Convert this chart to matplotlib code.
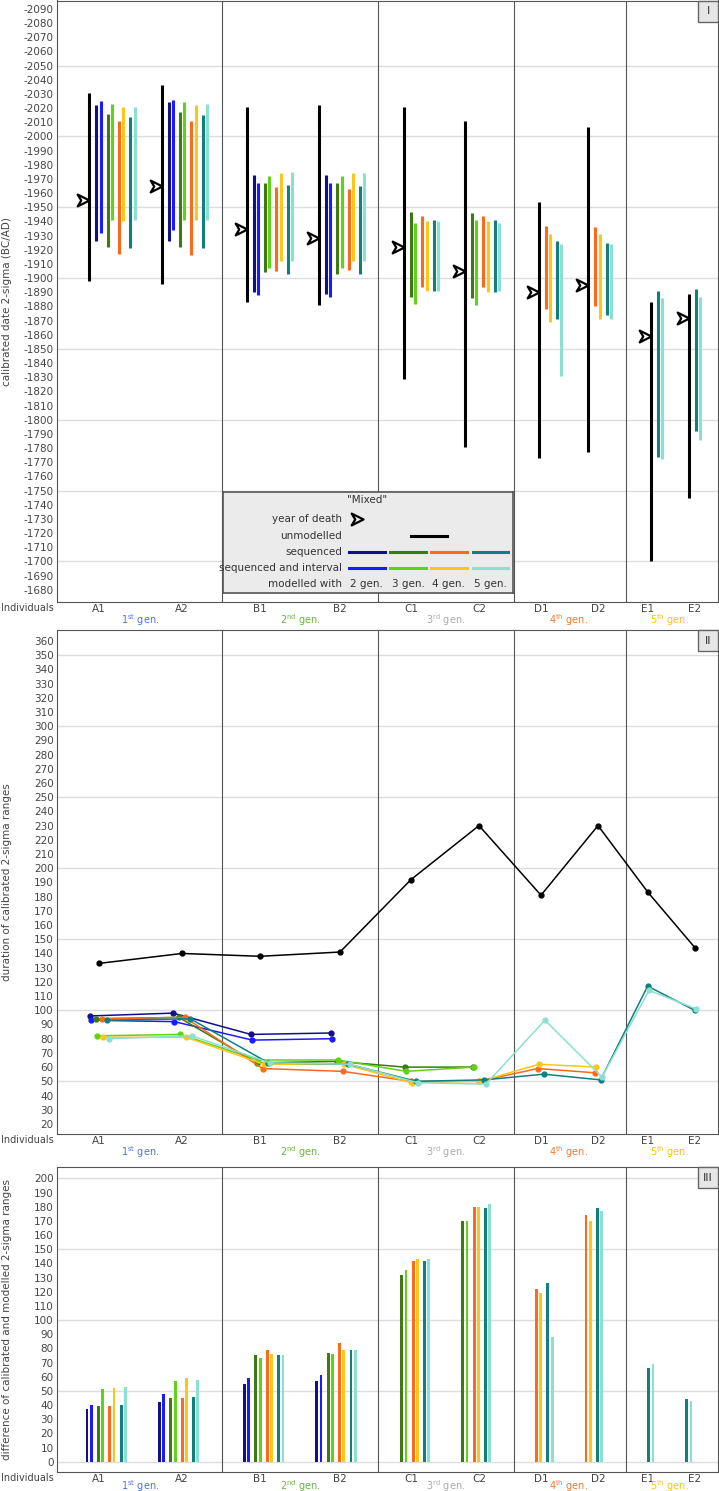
import numpy as np
import matplotlib
matplotlib.use('Agg')
import matplotlib.pyplot as plt
from matplotlib.path import Path
from matplotlib.patches import Rectangle

plt.rcParams['font.family'] = ['DejaVu Sans']
plt.rcParams['axes.unicode_minus'] = False
plt.rcParams['font.size'] = 7.5

nan = np.nan

# ---------------- data ----------------
individuals = ['A1', 'A2', 'B1', 'B2', 'C1', 'C2', 'D1', 'D2', 'E1', 'E2']
generations = [r'1$^{\mathrm{st}}$ gen.', r'2$^{\mathrm{nd}}$ gen.', r'3$^{\mathrm{rd}}$ gen.',
               r'4$^{\mathrm{th}}$ gen.', r'5$^{\mathrm{th}}$ gen.']
gen_colors = ['#4f74d9', '#6ab43c', '#aaaaaa', '#f07a2a', '#ffbe1a']

# seqN = sequenced, intN = sequenced and interval, modelled with N generations
series = ['seq2', 'int2', 'seq3', 'int3', 'seq4', 'int4', 'seq5', 'int5']
series_colors = {'seq2': '#10108c', 'int2': '#1a1aff', 'seq3': '#3d7a0f', 'int3': '#62d11a',
                 'seq4': '#ff6a1a', 'int4': '#ffc61a', 'seq5': '#0f8080', 'int5': '#8ce0d0'}

# panel I: calibrated / modelled 2-sigma ranges (BC/AD)
death_year = [-1955, -1965, -1935, -1928, -1922, -1905, -1890, -1895, -1859, -1872]
unmod_start = [-2031, -2036, -2021, -2022, -2021, -2011, -1954, -2007, -1883, -1889]
unmod_end = [-1898, -1896, -1883, -1881, -1829, -1781, -1773, -1777, -1700, -1745]

mod_start = {
    'seq2': [-2022, -2024, -1973, -1973, nan, nan, nan, nan, nan, nan],
    'int2': [-2025, -2026, -1967, -1967, nan, nan, nan, nan, nan, nan],
    'seq3': [-2016, -2017, -1967, -1967, -1947, -1946, nan, nan, nan, nan],
    'int3': [-2023, -2024, -1972, -1972, -1939, -1941, nan, nan, nan, nan],
    'seq4': [-2011, -2011, -1964, -1963, -1944, -1944, -1937, -1936, nan, nan],
    'int4': [-2021, -2022, -1974, -1974, -1940, -1940, -1931, -1931, nan, nan],
    'seq5': [-2014, -2015, -1966, -1965, -1941, -1941, -1926, -1925, -1891, -1892],
    'int5': [-2021, -2023, -1975, -1974, -1940, -1939, -1924, -1924, -1886, -1887],
}
mod_end = {
    'seq2': [-1926, -1926, -1890, -1889, nan, nan, nan, nan, nan, nan],
    'int2': [-1932, -1934, -1888, -1887, nan, nan, nan, nan, nan, nan],
    'seq3': [-1922, -1922, -1904, -1903, -1887, -1886, nan, nan, nan, nan],
    'int3': [-1941, -1941, -1907, -1907, -1882, -1881, nan, nan, nan, nan],
    'seq4': [-1917, -1916, -1905, -1906, -1894, -1894, -1878, -1880, nan, nan],
    'int4': [-1940, -1941, -1912, -1912, -1891, -1890, -1869, -1871, nan, nan],
    'seq5': [-1921, -1921, -1903, -1903, -1891, -1890, -1871, -1874, -1774, -1792],
    'int5': [-1941, -1941, -1912, -1912, -1891, -1891, -1831, -1871, -1772, -1786],
}

# panel II: duration of 2-sigma ranges
duration_unmod = [133, 140, 138, 141, 192, 230, 181, 230, 183, 144]
duration = {
    'seq2': [96, 98, 83, 84, nan, nan, nan, nan, nan, nan],
    'int2': [93, 92, 79, 80, nan, nan, nan, nan, nan, nan],
    'seq3': [94, 95, 63, 64, 60, 60, nan, nan, nan, nan],
    'int3': [82, 83, 65, 65, 57, 60, nan, nan, nan, nan],
    'seq4': [94, 95, 59, 57, 50, 50, 59, 56, nan, nan],
    'int4': [81, 81, 62, 62, 49, 50, 62, 60, nan, nan],
    'seq5': [93, 94, 63, 62, 50, 51, 55, 51, 117, 100],
    'int5': [80, 82, 63, 62, 49, 48, 93, 53, 114, 101],
}

# panel III: difference of calibrated and modelled ranges
difference = {
    'seq2': [37, 42, 55, 57, nan, nan, nan, nan, nan, nan],
    'int2': [40, 48, 59, 61, nan, nan, nan, nan, nan, nan],
    'seq3': [39, 45, 75, 77, 132, 170, nan, nan, nan, nan],
    'int3': [51, 57, 73, 76, 135, 170, nan, nan, nan, nan],
    'seq4': [39, 45, 79, 84, 142, 180, 122, 174, nan, nan],
    'int4': [52, 59, 76, 79, 143, 180, 119, 170, nan, nan],
    'seq5': [40, 46, 75, 79, 142, 179, 126, 179, 66, 44],
    'int5': [53, 58, 75, 79, 143, 182, 88, 177, 69, 43],
}

# ---------------- layout (x data units = figure pixels) ----------------
W, H = 719, 1491
X0, X1 = 57, 718
label_x = [99, 182, 260, 340, 411, 479, 541, 598, 648, 695]
group_x0 = [89.3, 161.7, 246.7, 319, 404, 465, 538.7, 588.3, 651, 689]
sep_x = [221.5, 378, 513.5, 626]
gen_x = [140, 300, 446, 569, 670]
TXT = '#444444'
EDGE = '#555555'

fig = plt.figure(figsize=(W / 100, H / 100), dpi=100)


def px_axes(top, bottom, left=X0, right=X1):
    return fig.add_axes([left / W, 1 - bottom / H, (right - left) / W, (bottom - top) / H])


def pairs_of(i):
    return [g for g in range(4) if not np.isnan(duration[series[2 * g]][i])]


def style_panel(ax, top, bottom, yticks, grid, ylabel, tag, gen_off=21.5):
    ax.set_xlim(X0, X1)
    ax.set_yticks(yticks)
    ax.set_yticklabels([str(v) for v in yticks])
    ax.set_xticks(label_x)
    ax.set_xticklabels(individuals)
    ax.tick_params(length=0, pad=2.5, labelsize=7.5, labelcolor=TXT)
    ax.tick_params(axis='x', pad=1.5)
    for v in grid:
        ax.axhline(v, color='#dddddd', lw=1.0, zorder=0)
    for x in sep_x:
        ax.axvline(x, color=EDGE, lw=0.8, zorder=1)
    for sp in ax.spines.values():
        sp.set_color(EDGE)
        sp.set_linewidth(0.8)
    ax.set_ylabel(ylabel, color=TXT, fontsize=7.5)
    ax.yaxis.set_label_coords(-(X0 - 12) / (X1 - X0), 0.5)
    fig.text(54 / W, 1 - (bottom + 6) / H, 'Individuals', ha='right', va='center',
             color=TXT, fontsize=7)
    for gx, gl, gc in zip(gen_x, generations, gen_colors):
        fig.text(gx / W, 1 - (bottom + gen_off) / H, gl, ha='center', va='baseline',
                 color=gc, fontsize=7)
    fig.add_artist(Rectangle((698 / W, 1 - (top + 21) / H), 20 / W, 21 / H,
                             transform=fig.transFigure, fc='#e6e6e6', ec='#666666', lw=1))
    fig.text(708 / W, 1 - (top + 11) / H, tag, ha='center', va='center',
             color='#333333', fontsize=8)


death_marker = Path([(0, 0), (-1, 0.5), (-0.7, 0), (-1, -0.5), (0, 0)],
                    [Path.MOVETO, Path.LINETO, Path.LINETO, Path.LINETO, Path.CLOSEPOLY])

# ---------------- panel I ----------------
ax1 = px_axes(0.5, 602)
for i in range(len(individuals)):
    x0 = group_x0[i]
    ax1.vlines(x0, unmod_start[i], unmod_end[i], color='black', lw=2.2, zorder=3)
    ax1.plot(x0, death_year[i], marker=death_marker, ms=17, mfc='none', mec='black',
             mew=1.6, zorder=4)
    for k, g in enumerate(pairs_of(i)):
        for j, s in enumerate(series[2 * g:2 * g + 2]):
            ax1.vlines(x0 + 7 + 11.3 * k + 4.3 * j, mod_start[s][i], mod_end[s][i],
                       color=series_colors[s], lw=2.2, zorder=3)
ax1.set_ylim(-1671.4, -2096)
style_panel(ax1, 0.5, 602, np.arange(-2090, -1679, 10), np.arange(-2050, -1699, 50),
            'calibrated date 2-sigma (BC/AD)', 'I')

# legend box
lg = px_axes(492.3, 592.7, 222.7, 512.7)
lg.set_facecolor('#ebebeb')
lg.set_xlim(222.7, 512.7)
lg.set_ylim(592.7, 492.3)
lg.set_xticks([])
lg.set_yticks([])
for sp in lg.spines.values():
    sp.set_color(EDGE)
    sp.set_linewidth(1.2)
lg.text(367, 500, '"Mixed"', ha='center', va='center', color='#333333', fontsize=7.5)
row_y = [519.3, 535.7, 551.7, 567.7, 583.7]
row_txt = ['year of death', 'unmodelled', 'sequenced', 'sequenced and interval', 'modelled with']
for ry, rt in zip(row_y, row_txt):
    lg.text(342, ry, rt, ha='right', va='center', color='#333333', fontsize=7.5)
lg.plot(363, row_y[0], marker=death_marker, ms=17, mfc='none', mec='black', mew=1.6)
lg.plot([410.7, 446.7], [row_y[1], row_y[1]], color='black', lw=2.2)
col_x = [(349, 384.7), (390.3, 426), (431, 466.7), (472.7, 508.3)]
for k, (xa, xb) in enumerate(col_x):
    lg.plot([xa, xb], [row_y[2], row_y[2]], color=series_colors[series[2 * k]], lw=2.2)
    lg.plot([xa, xb], [row_y[3], row_y[3]], color=series_colors[series[2 * k + 1]], lw=2.2)
    lg.text((xa + xb) / 2, row_y[4], '%d gen.' % (k + 2), ha='center', va='center',
            color='#333333', fontsize=7.5)

# ---------------- panel II ----------------
ax2 = px_axes(630, 1134)
ax2.plot(label_x, duration_unmod, color='black', lw=1.1, marker='o', ms=3.5, zorder=3)
for si, s in enumerate(series):
    g, j = si // 2, si % 2
    xs = []
    for i in range(len(individuals)):
        p = pairs_of(i)
        if g in p:
            k = p.index(g)
            xs.append(label_x[i] + (k - (len(p) - 1) / 2) * 5.8 + 0.35 + (1.4 * j - 0.7))
        else:
            xs.append(nan)
    ax2.plot(xs, duration[s], color=series_colors[s], lw=1.1, marker='o', ms=3.5, zorder=3)
ax2.set_ylim(12.9, 367.7)
style_panel(ax2, 630, 1134, np.arange(20, 361, 10), np.arange(50, 351, 50),
            'duration of calibrated 2-sigma ranges', 'II')

# ---------------- panel III ----------------
ax3 = px_axes(1167.3, 1471.7)
for si, s in enumerate(series):
    g, j = si // 2, si % 2
    xs, hs = [], []
    for i in range(len(individuals)):
        p = pairs_of(i)
        if g in p:
            xs.append(group_x0[i] - 2.3 + 11.4 * p.index(g) + 4.3 * j)
            hs.append(difference[s][i])
    ax3.bar(xs, hs, width=2.8, color=series_colors[s], zorder=3)
ax3.set_ylim(-7.06, 207.8)
style_panel(ax3, 1167.3, 1471.7, np.arange(0, 201, 10), np.arange(0, 201, 50),
            'difference of calibrated and modelled 2-sigma ranges', 'III', gen_off=17.8)

fig.savefig('out.png', dpi=100)
